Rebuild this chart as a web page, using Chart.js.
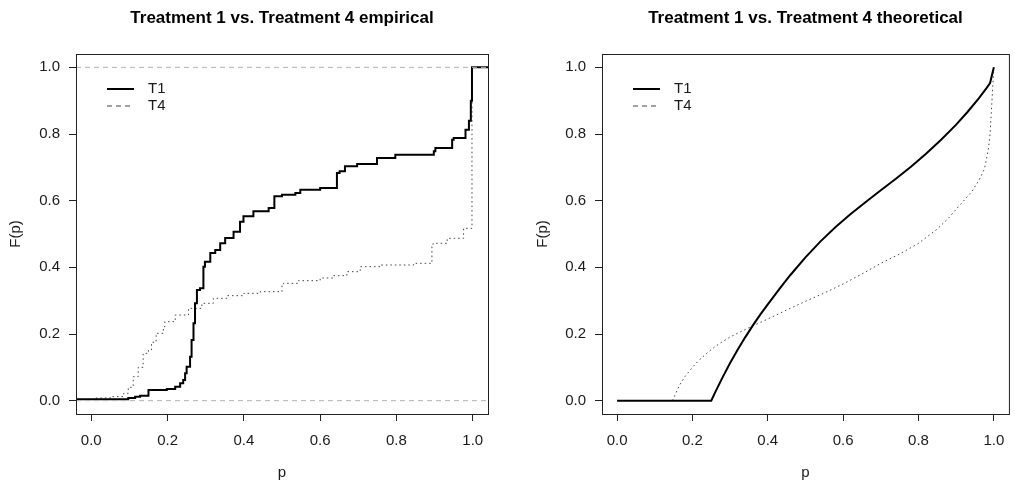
<!DOCTYPE html>
<html>
<head>
<meta charset="utf-8">
<script src="https://cdn.jsdelivr.net/npm/chart.js@4.4.1/dist/chart.umd.min.js"></script>
<style>
  html, body { margin: 0; padding: 0; background: #fff; }
  #wrap { position: relative; width: 1015px; height: 487px; overflow: hidden; }
  canvas { position: absolute; top: 0; }
  #c-emp { left: 0; }
  #c-theo { left: 507px; }
</style>
</head>
<body>
<div id="wrap">
  <canvas id="c-emp" width="507" height="487"></canvas>
  <canvas id="c-theo" width="508" height="487"></canvas>
</div>
<script>
const xTicks = [0, 0.2, 0.4, 0.6, 0.8, 1.0];
const yTicks = [0, 0.2, 0.4, 0.6, 0.8, 1.0];
const axisRange = [-0.04, 1.04];
const refLevels = [0, 1];
const seriesLabels = ["T1", "T4"];
const titles = ["Treatment 1 vs. Treatment 4 empirical", "Treatment 1 vs. Treatment 4 theoretical"];

// empirical ECDFs (step points)
const t1EmpX = [-0.04, 0.097, 0.115, 0.128, 0.15, 0.198, 0.22, 0.233, 0.241, 0.246, 0.25, 0.259, 0.263, 0.268, 0.272, 0.277, 0.285, 0.294, 0.298, 0.312, 0.325, 0.338, 0.351, 0.373, 0.39, 0.399, 0.425, 0.465, 0.48, 0.5, 0.535, 0.548, 0.6, 0.644, 0.651, 0.665, 0.697, 0.749, 0.797, 0.898, 0.902, 0.946, 0.95, 0.981, 0.99, 0.995, 0.998, 1.0, 1.04];
const t1EmpY = [0, 0.004, 0.008, 0.012, 0.015, 0.032, 0.035, 0.042, 0.052, 0.062, 0.082, 0.102, 0.132, 0.182, 0.232, 0.292, 0.332, 0.337, 0.402, 0.417, 0.443, 0.452, 0.472, 0.488, 0.507, 0.537, 0.553, 0.568, 0.578, 0.613, 0.618, 0.623, 0.633, 0.638, 0.683, 0.688, 0.703, 0.71, 0.728, 0.738, 0.748, 0.758, 0.783, 0.788, 0.813, 0.84, 0.9, 1.0, 1.0];
const t4EmpX = [-0.04, 0.01, 0.05, 0.085, 0.097, 0.11, 0.123, 0.136, 0.15, 0.158, 0.17, 0.189, 0.193, 0.22, 0.255, 0.29, 0.32, 0.355, 0.40, 0.443, 0.5, 0.504, 0.543, 0.6, 0.635, 0.67, 0.705, 0.758, 0.845, 0.893, 0.896, 0.933, 0.976, 0.998, 1.0, 1.04];
const t4EmpY = [0, 0.004, 0.008, 0.012, 0.022, 0.04, 0.072, 0.1, 0.142, 0.152, 0.175, 0.202, 0.222, 0.237, 0.257, 0.277, 0.292, 0.307, 0.315, 0.322, 0.327, 0.347, 0.352, 0.36, 0.368, 0.375, 0.387, 0.402, 0.407, 0.412, 0.462, 0.472, 0.487, 0.517, 1.0, 1.0];

// theoretical CDFs
const t1TheoX = [0, 0.25, 0.26, 0.28, 0.30, 0.32, 0.34, 0.36, 0.38, 0.40, 0.43, 0.46, 0.50, 0.54, 0.58, 0.62, 0.66, 0.70, 0.74, 0.78, 0.82, 0.86, 0.90, 0.93, 0.96, 0.98, 0.99, 1.0];
const t1TheoY = [0, 0, 0.024, 0.070, 0.113, 0.153, 0.190, 0.225, 0.258, 0.289, 0.334, 0.377, 0.430, 0.478, 0.521, 0.560, 0.596, 0.631, 0.666, 0.702, 0.741, 0.783, 0.828, 0.866, 0.907, 0.937, 0.953, 1.0];
const t4TheoX = [0.147, 0.155, 0.165, 0.18, 0.2, 0.22, 0.24, 0.26, 0.28, 0.30, 0.35, 0.40, 0.45, 0.50, 0.55, 0.60, 0.65, 0.70, 0.75, 0.80, 0.85, 0.88, 0.91, 0.94, 0.96, 0.975, 0.985, 0.99, 0.995, 1.0];
const t4TheoY = [0, 0.02, 0.045, 0.072, 0.10, 0.124, 0.144, 0.162, 0.177, 0.191, 0.219, 0.245, 0.272, 0.298, 0.323, 0.35, 0.38, 0.412, 0.44, 0.472, 0.515, 0.548, 0.587, 0.625, 0.66, 0.695, 0.75, 0.80, 0.90, 1.0];

const FONT = "'Liberation Sans', Arial, Helvetica, sans-serif";
Chart.defaults.font.family = FONT;
Chart.defaults.color = "#1a1a1a";

const keyStyles = [
  { color: "#000", width: 2, dash: [] },
  { color: "#444", width: 1, dash: [5, 4] },
];

const pts = (xs, ys) => xs.map((x, i) => ({ x, y: ys[i] }));

const framePlugin = {
  id: "frame",
  afterDraw(chart) {
    const { ctx, chartArea: a } = chart;
    ctx.save();
    ctx.strokeStyle = "#222";
    ctx.lineWidth = 1;
    ctx.strokeRect(a.left + 0.5, a.top + 0.5, a.right - a.left, a.bottom - a.top);
    ctx.restore();
  },
};

const keyPlugin = {
  id: "key",
  afterDatasetsDraw(chart) {
    const { ctx, chartArea: a } = chart;
    ctx.save();
    ctx.font = "15px " + FONT;
    ctx.textBaseline = "middle";
    seriesLabels.forEach((label, i) => {
      const s = keyStyles[i];
      const y = a.top + 35 + i * 17;
      ctx.strokeStyle = s.color;
      ctx.lineWidth = s.width;
      ctx.setLineDash(s.dash);
      ctx.beginPath();
      ctx.moveTo(a.left + 31, y);
      ctx.lineTo(a.left + 58, y);
      ctx.stroke();
      ctx.fillStyle = "#1a1a1a";
      ctx.fillText(label, a.left + 72, y);
    });
    ctx.restore();
  },
};

function scaleOpts(ticks, fit, title, titlePad, tickPad) {
  return {
    type: "linear",
    min: axisRange[0],
    max: axisRange[1],
    afterBuildTicks: (s) => { s.ticks = ticks.map((v) => ({ value: v })); },
    afterFit: fit,
    grid: { display: true, drawOnChartArea: false, drawTicks: true, tickLength: 7, color: "#222" },
    border: { display: false },
    ticks: { padding: tickPad, autoSkip: false, maxRotation: 0, font: { size: 15 }, callback: (v) => Number(v).toFixed(1) },
    title: { display: true, text: title, font: { size: 15 }, padding: titlePad },
  };
}

function makeChart(id, title, lines, opt) {
  const datasets = [];
  refLevels.forEach((lvl) => {
    if (!opt.refLines) return;
    datasets.push({
      data: pts(axisRange, [lvl, lvl]),
      borderColor: "#b3b3b3",
      borderWidth: 1,
      borderDash: [5, 4],
      pointRadius: 0,
      order: 0,
    });
  });
  lines.forEach((ln, i) => {
    datasets.push({
      label: seriesLabels[i],
      data: pts(ln.x, ln.y),
      borderColor: i === 0 ? "#000" : "#444",
      borderWidth: i === 0 ? 2 : 1,
      borderDash: i === 0 ? [] : [1.5, 3],
      stepped: opt.stepped ? "after" : false,
      tension: 0,
      pointRadius: 0,
      order: i + 1,
    });
  });

  return new Chart(document.getElementById(id), {
    type: "line",
    data: { datasets },
    options: {
      responsive: false,
      animation: false,
      layout: { padding: { left: 0, right: opt.rightPad, top: 0, bottom: 0 } },
      plugins: {
        legend: { display: false },
        tooltip: { enabled: false },
        title: {
          display: true,
          text: title,
          fullSize: false,
          color: "#000",
          font: { size: 17, weight: "bold" },
          padding: { top: 8.6, bottom: 25 },
        },
      },
      scales: {
        x: scaleOpts(xTicks, (s) => { s.height = 73; }, "p", { top: 0, bottom: 5.5 }, 10.5),
        y: scaleOpts(yTicks, (s) => { s.width = opt.yWidth; }, "F(p)", { top: opt.yTitlePad, bottom: 0 }, 9),
      },
    },
    plugins: [framePlugin, keyPlugin],
  });
}

makeChart("c-emp", titles[0],
  [{ x: t1EmpX, y: t1EmpY }, { x: t4EmpX, y: t4EmpY }],
  { stepped: true, refLines: true, rightPad: 19, yWidth: 76, yTitlePad: 7.3 });

makeChart("c-theo", titles[1],
  [{ x: t1TheoX, y: t1TheoY }, { x: t4TheoX, y: t4TheoY }],
  { stepped: false, refLines: false, rightPad: 1, yWidth: 95, yTitlePad: 27 });
</script>
</body>
</html>
